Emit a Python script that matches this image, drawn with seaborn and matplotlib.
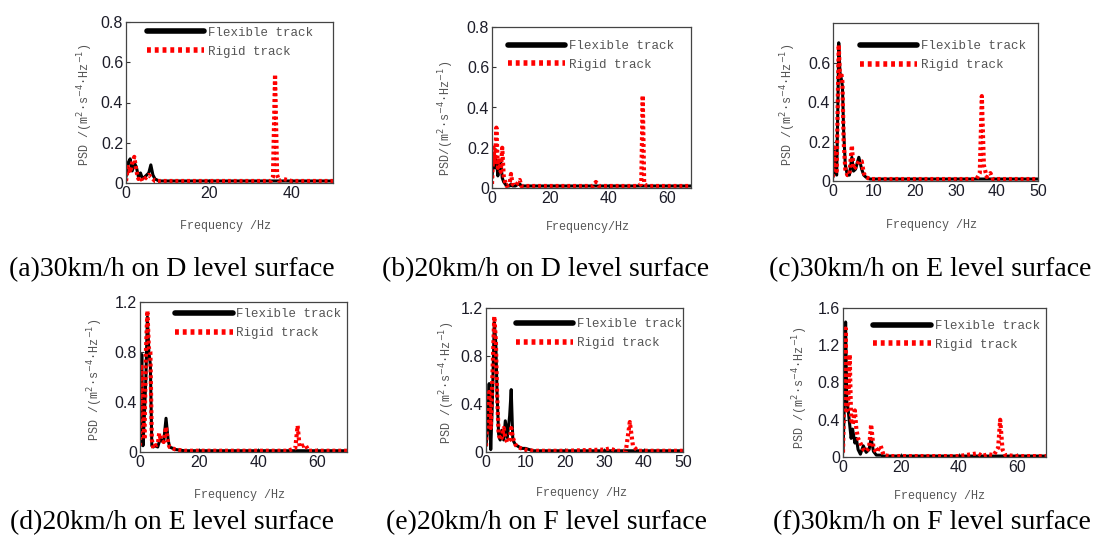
import numpy as np
import pandas as pd
import seaborn as sns
import matplotlib.pyplot as plt

# panel (a) 30km/h, D level
freq_a = [0, 0.5, 1, 1.5, 2, 2.5, 3, 3.5, 4, 4.5, 5, 5.5, 6, 6.5, 7, 8, 9, 10, 15, 20, 25, 30,
          35, 35.5, 36, 36.5, 37, 38, 40, 45, 50]
flex_a = [0.03, 0.10, 0.12, 0.06, 0.10, 0.08, 0.03, 0.05, 0.02, 0.03, 0.04, 0.05, 0.09, 0.04, 0.02,
          0.01, 0.01, 0.01, 0.01, 0.01, 0.01, 0.01, 0.01, 0.01, 0.01, 0.01, 0.01, 0.01, 0.01, 0.01, 0.01]
rigid_a = [0.01, 0.08, 0.05, 0.10, 0.13, 0.06, 0.02, 0.03, 0.01, 0.02, 0.03, 0.04, 0.03, 0.02, 0.01,
           0.01, 0.01, 0.01, 0.01, 0.01, 0.01, 0.01, 0.01, 0.03, 0.54, 0.04, 0.01, 0.02, 0.01, 0.01, 0.01]

# panel (b) 20km/h, D level
freq_b = [0, 0.5, 1, 1.5, 2, 2.5, 3, 3.5, 4, 4.5, 5, 6, 6.5, 7, 8, 9, 9.5, 10, 11, 15, 20, 30,
          34.5, 35.5, 36.5, 45, 50, 51, 51.5, 52, 53, 60, 68]
flex_b = [0.05, 0.15, 0.10, 0.14, 0.06, 0.12, 0.13, 0.05, 0.03, 0.02, 0.01,
          0.01, 0.02, 0.01, 0.01, 0.02, 0.02, 0.01, 0.01, 0.01, 0.01, 0.01,
          0.01, 0.01, 0.01, 0.01, 0.01, 0.01, 0.01, 0.01, 0.01, 0.01, 0.01]
rigid_b = [0.02, 0.20, 0.12, 0.30, 0.10, 0.15, 0.08, 0.20, 0.06, 0.03, 0.01,
           0.02, 0.07, 0.02, 0.01, 0.03, 0.04, 0.01, 0.01, 0.01, 0.01, 0.01,
           0.01, 0.03, 0.01, 0.01, 0.01, 0.02, 0.46, 0.02, 0.01, 0.01, 0.01]

# panel (c) 30km/h, E level
freq_c = [0, 0.3, 0.6, 0.9, 1.2, 1.4, 1.7, 2, 2.3, 2.6, 3, 3.5, 4, 4.6, 5, 5.5, 6.3, 7, 7.5, 8,
          9, 10, 15, 20, 30, 35, 35.8, 36.3, 36.8, 37.5, 38.4, 39, 42, 50]
flex_c = [0.02, 0.15, 0.05, 0.03, 0.40, 0.70, 0.55, 0.52, 0.48, 0.25,
          0.08, 0.03, 0.03, 0.12, 0.05, 0.06, 0.12, 0.06, 0.03, 0.02,
          0.01, 0.01, 0.01, 0.01, 0.01, 0.01, 0.01, 0.01, 0.01, 0.01, 0.01, 0.01, 0.01, 0.01]
rigid_c = [0.02, 0.17, 0.06, 0.05, 0.45, 0.69, 0.52, 0.55, 0.50, 0.20,
           0.06, 0.03, 0.03, 0.18, 0.06, 0.07, 0.10, 0.10, 0.04, 0.02,
           0.01, 0.01, 0.01, 0.01, 0.01, 0.01, 0.04, 0.43, 0.08, 0.02, 0.04, 0.01, 0.01, 0.01]

# panel (d) 20km/h, E level
freq_d = [0, 0.3, 0.6, 1, 1.5, 2, 2.5, 3, 3.5, 4, 4.5, 5, 6, 6.5, 7, 8, 8.8, 9.5, 10, 11,
          12, 15, 20, 30, 40, 50, 52.5, 53.3, 54, 55, 55.9, 57, 60, 70]
flex_d = [0.05, 0.40, 0.78, 0.05, 0.30, 0.60, 1.08, 0.80, 0.70, 0.05,
          0.04, 0.05, 0.04, 0.08, 0.10, 0.08, 0.27, 0.10, 0.04, 0.03,
          0.02, 0.01, 0.01, 0.01, 0.01, 0.01, 0.01, 0.01, 0.01, 0.01, 0.01, 0.01, 0.01, 0.01]
rigid_d = [0.05, 0.70, 0.50, 0.40, 0.10, 0.80, 1.13, 0.83, 0.80, 0.10,
           0.03, 0.05, 0.06, 0.15, 0.10, 0.08, 0.20, 0.07, 0.04, 0.03,
           0.02, 0.01, 0.01, 0.01, 0.01, 0.01, 0.03, 0.21, 0.04, 0.05, 0.06, 0.01, 0.01, 0.01]

# panel (e) 20km/h, F level
freq_e = [0, 0.4, 0.8, 1.2, 1.6, 2.1, 2.5, 2.8, 3.2, 3.6, 4, 4.5, 4.9, 5.4, 6, 6.4, 6.8, 7.5, 8, 9,
          10, 12, 15, 20, 30, 31.5, 33, 35.5, 36.5, 37.3, 38.5, 40, 45, 50]
flex_e = [0.05, 0.20, 0.57, 0.02, 0.40, 1.08, 0.90, 0.50, 0.15, 0.10,
          0.18, 0.10, 0.26, 0.12, 0.30, 0.52, 0.10, 0.06, 0.05, 0.03,
          0.03, 0.01, 0.01, 0.01, 0.01, 0.01, 0.01, 0.01, 0.01, 0.01, 0.01, 0.01, 0.01, 0.01]
rigid_e = [0.05, 0.30, 0.50, 0.20, 0.60, 1.13, 0.93, 0.50, 0.15, 0.10,
           0.12, 0.20, 0.12, 0.08, 0.10, 0.20, 0.12, 0.06, 0.04, 0.03,
           0.02, 0.01, 0.01, 0.01, 0.02, 0.03, 0.01, 0.01, 0.25, 0.05, 0.01, 0.01, 0.01, 0.01]

# panel (f) 30km/h, F level
freq_f = [0, 0.5, 0.9, 1.3, 1.8, 2.3, 2.8, 3.3, 4.1, 4.6, 5.2, 6, 7, 8, 9, 9.7, 10.5, 11.5, 13, 14,
          16, 20, 30, 40, 46.5, 48, 50, 52, 53.5, 54.2, 55, 56, 60, 70]
flex_f = [0.05, 0.60, 1.45, 0.60, 0.50, 0.35, 0.20, 0.30, 0.15, 0.20,
          0.08, 0.03, 0.12, 0.05, 0.08, 0.20, 0.06, 0.02, 0.02, 0.01,
          0.01, 0.01, 0.01, 0.01, 0.01, 0.01, 0.01, 0.01, 0.01, 0.01, 0.01, 0.01, 0.01, 0.01]
rigid_f = [0.05, 0.80, 1.38, 0.50, 0.60, 1.10, 0.40, 0.35, 0.50, 0.30,
           0.20, 0.15, 0.08, 0.06, 0.10, 0.35, 0.10, 0.05, 0.12, 0.02,
           0.01, 0.01, 0.01, 0.01, 0.04, 0.01, 0.03, 0.02, 0.10, 0.40, 0.08, 0.02, 0.01, 0.01]

captions = ['(a)30km/h on D level surface', '(b)20km/h on D level surface',
            '(c)30km/h on E level surface', '(d)20km/h on E level surface',
            '(e)20km/h on F level surface', '(f)30km/h on F level surface']
xlabels = ['Frequency /Hz', 'Frequency/Hz', 'Frequency /Hz',
           'Frequency /Hz', 'Frequency /Hz', 'Frequency /Hz']
ylabels = ['PSD /(m$^2$·s$^{-4}$·Hz$^{-1}$)', 'PSD/(m$^2$·s$^{-4}$·Hz$^{-1}$)',
           'PSD /(m$^2$·s$^{-4}$·Hz$^{-1}$)', 'PSD /(m$^2$·s$^{-4}$·Hz$^{-1}$)',
           'PSD /(m$^2$·s$^{-4}$·Hz$^{-1}$)', 'PSD /(m$^2$·s$^{-4}$·Hz$^{-1}$)']

sns.set_style('ticks')
plt.rcParams['font.family'] = ['Liberation Sans', 'DejaVu Sans']

W, H = 1096, 535
fig = plt.figure(figsize=(W / 100, H / 100), dpi=100)

def px(x, y):
    return x / W, 1 - y / H

# layout per panel: axes box (l, t, r, b) px, xlim, xticks, ylim, yticks,
# legend anchor (axes frac), xlabel px, ylabel px, caption px
layout = [
    ((126, 22, 333, 183), 50, [0, 20, 40], 0.8, [0, 0.2, 0.4, 0.6, 0.8], (0.10, 0.97), (226, 226), (85, 105), (172, 270)),
    ((492, 27, 691, 188), 68, [0, 20, 40, 60], 0.8, [0, 0.2, 0.4, 0.6, 0.8], (0.08, 0.92), (588, 227), (446, 118), (546, 270)),
    ((833, 23, 1038, 181), 50, [0, 10, 20, 30, 40, 50], 0.8, [0, 0.2, 0.4, 0.6], (0.13, 0.89), (932, 225), (788, 105), (930, 270)),
    ((140, 302, 347, 452), 70, [0, 20, 40, 60], 1.2, [0, 0.4, 0.8, 1.2], (0.17, 0.96), (240, 495), (95, 380), (172, 523)),
    ((486, 308, 683, 452), 50, [0, 10, 20, 30, 40, 50], 1.2, [0, 0.4, 0.8, 1.2], (0.15, 0.93), (582, 493), (447, 383), (546, 523)),
    ((843, 308, 1046, 457), 70, [0, 20, 40, 60], 1.6, [0, 0.4, 0.8, 1.2, 1.6], (0.15, 0.92), (940, 496), (800, 388), (932, 523)),
]

series = [(freq_a, flex_a, rigid_a), (freq_b, flex_b, rigid_b), (freq_c, flex_c, rigid_c),
          (freq_d, flex_d, rigid_d), (freq_e, flex_e, rigid_e), (freq_f, flex_f, rigid_f)]

gray = '#555555'
for i, ((l, t, r, b), xmax, xt, ymax, yt, leg, xl, yl, cap) in enumerate(layout):
    ax = fig.add_axes([l / W, 1 - b / H, (r - l) / W, (b - t) / H])
    freq, flex, rigid = series[i]
    df = pd.DataFrame({'freq': freq, 'flex': flex, 'rigid': rigid})
    sns.lineplot(data=df, x='freq', y='flex', ax=ax, color='black', lw=2.2,
                 estimator=None, label='Flexible track')
    sns.lineplot(data=df, x='freq', y='rigid', ax=ax, color='red', lw=3,
                 linestyle=(0, (0.7, 0.7)), estimator=None, label='Rigid track')
    ax.set_xlim(0, xmax)
    ax.set_ylim(0, ymax)
    ax.set_xticks(xt)
    ax.set_yticks(yt)
    ax.set_yticklabels(['0' if v == 0 else f'{v:.1f}' for v in yt])
    ax.tick_params(direction='in', length=3, width=0.8, labelsize=11.5,
                   labelcolor='#1c1c28', pad=2, color='#333333')
    for s in ax.spines.values():
        s.set_visible(True)
        s.set_color('#444444')
        s.set_linewidth(0.9)
    ax.set_xlabel('')
    ax.set_ylabel('')
    lg = ax.legend(loc='upper left', bbox_to_anchor=leg, frameon=False, borderpad=0,
                   borderaxespad=0, handlelength=4.6, handletextpad=0.3, labelspacing=0.55,
                   prop={'family': 'Liberation Mono', 'size': 9})
    for h in lg.get_lines():
        h.set_linewidth(4)
    for txt in lg.get_texts():
        txt.set_color(gray)
    fig.text(*px(*xl), xlabels[i], ha='center', va='center', color=gray,
             fontsize=8.5, family='Liberation Mono')
    fig.text(*px(*yl), ylabels[i], ha='center', va='center', color=gray,
             fontsize=8.5, family='Liberation Mono', rotation=90)
    fig.text(*px(*cap), captions[i], ha='center', va='center', color='black',
             fontsize=20, family='Liberation Serif')

fig.savefig('out.png', dpi=100)
